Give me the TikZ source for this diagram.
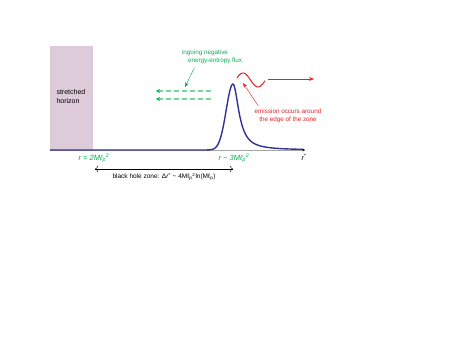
\documentclass[tikz,border=0pt]{standalone}
\usepackage{fontspec}
\setmainfont{Liberation Sans}
\usetikzlibrary{arrows.meta}
\definecolor{zonegreen}{RGB}{0,176,80}
\definecolor{fluxlight}{RGB}{125,212,155}
\definecolor{emitred}{RGB}{232,30,36}
\definecolor{curveblue}{RGB}{48,50,148}
\definecolor{horizonpink}{RGB}{221,203,217}
\tikzset{
  fluxline/.style={draw=fluxlight, line width=1.6pt, dash pattern=on 5pt off 3pt,
    -{Stealth[color=zonegreen, length=4pt, width=4pt]}},
  radius label/.style={zonegreen, font=\fontsize{7.5}{9}\selectfont\itshape}
}
\begin{document}
\begin{tikzpicture}[>={Stealth}, x=1pt, y=-1pt, font=\fontsize{6.3}{7.5}\selectfont]
        \useasboundingbox (0,0) rectangle (470,352);
        \fill[horizonpink] (50,46) rectangle (93,150);
        \node[align=left, anchor=west, font=\fontsize{7}{9}\selectfont] (horizon) at (53,97) {stretched\\horizon};

        \coordinate (axisL) at (50,150);
        \coordinate (axisR) at (305,150);
        \draw[gray!70, -{Stealth[color=black, length=2.5pt, width=2.5pt]}] (axisL) -- (axisR);
        \node[font=\fontsize{7}{8}\selectfont] (rstar) at (304,157) {\textit{r}\textsuperscript{*}};

        \draw[curveblue, line width=1.4pt] (axisL) -- (195,150)
          -- plot[domain=195:233, samples=60] (\x,{150-66*exp(-(\x-233)*(\x-233)/92.16)})
          -- plot[domain=233:303, samples=80] (\x,{150-66/(1+(\x-233)*(\x-233)/49)});

        \coordinate (fluxAs) at (211,91);
        \coordinate (fluxAe) at (156,91);
        \coordinate (fluxBs) at (211,99);
        \coordinate (fluxBe) at (156,99);
        \draw[fluxline] (fluxAs) -- (fluxAe);
        \draw[fluxline] (fluxBs) -- (fluxBe);

        \node[zonegreen] (fluxtxtA) at (205,53) {ingoing negative};
        \node[zonegreen] (fluxtxtB) at (215,61) {energy-entropy flux};
        \coordinate (fluxtip) at (185,87);
        \draw[zonegreen, ->] ([xshift=10pt]fluxtxtB.south west) -- (fluxtip);

        \draw[emitred, line width=1pt] plot[domain=237:265, samples=50] (\x,{80-7*cos(360*(\x-243)/30)});
        \coordinate (waveEnd) at (268,79);
        \coordinate (outTip) at (314,79);
        \draw[emitred, ->] (waveEnd) -- (outTip);

        \node[emitred, align=center] (emittxt) at (288,116) {emission occurs around\\the edge of the zone};
        \coordinate (emittip) at (243,83);
        \draw[emitred, ->] ([xshift=7pt]emittxt.north west) -- (emittip);

        \node[radius label] (rhor) at (94,158) {r = 2Mℓ\textsubscript{p}\textsuperscript{2}};
        \node[radius label] (rzone) at (234,158) {r \textasciitilde{} 3Mℓ\textsubscript{p}\textsuperscript{2}};

        \coordinate (zoneL) at (95,169);
        \coordinate (zoneR) at (233,169);
        \draw[{To[length=3pt]}-{To[length=3pt]}, thin] (zoneL) -- (zoneR);
        \node[font=\fontsize{6.5}{8}\selectfont] (zonetxt) at (164,177) {black hole zone: Δ\textit{r}\textsuperscript{*} \textasciitilde{} 4Mℓ\textsubscript{p}\textsuperscript{2}ln(Mℓ\textsubscript{p})};
    \end{tikzpicture}
\end{document}
